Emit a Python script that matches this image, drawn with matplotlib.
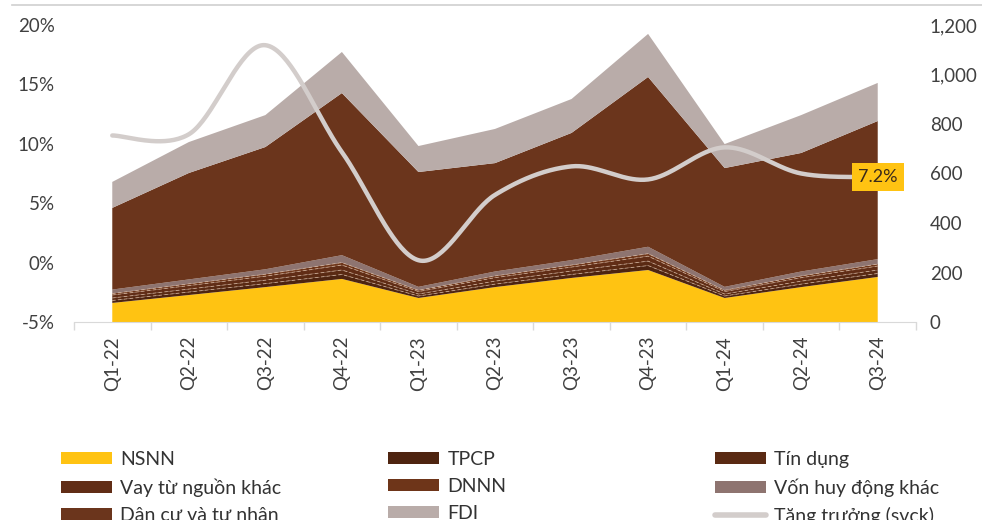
import numpy as np
import matplotlib
matplotlib.use("Agg")
import matplotlib.pyplot as plt
from matplotlib.patches import Patch
from matplotlib.lines import Line2D

plt.rcParams['font.family'] = ['Lato', 'DejaVu Sans']

quarters = ["Q1-22", "Q2-22", "Q3-22", "Q4-22", "Q1-23", "Q2-23",
            "Q3-23", "Q4-23", "Q1-24", "Q2-24", "Q3-24"]

# capital sources (right axis), bottom to top
nsnn = [77, 109, 141, 174, 97, 141, 178, 210, 97, 141, 182]
tpcp = [10, 12, 14, 18, 8, 12, 14, 18, 8, 12, 14]
tin_dung = [10, 12, 14, 18, 8, 12, 14, 18, 8, 12, 14]
vay_khac = [12, 14, 16, 20, 10, 14, 16, 20, 10, 14, 16]
dnnn = [6, 7, 8, 10, 5, 7, 8, 10, 5, 7, 8]
von_khac = [16, 18, 20, 30, 14, 18, 20, 28, 14, 18, 20]
dan_cu = [330, 430, 494, 655, 464, 438, 514, 686, 480, 479, 558]
fdi = [105, 125, 129, 166, 105, 138, 137, 174, 97, 153, 154]

# year-on-year growth (left axis, %)
tang_truong = [10.7, 10.8, 18.3, 9.3, 0.2, 5.7, 8.1, 7.0, 9.7, 7.5, 7.2]

layers = [nsnn, tpcp, tin_dung, vay_khac, dnnn, von_khac, dan_cu, fdi]
names = ["NSNN", "TPCP", "Tín dụng", "Vay từ nguồn khác", "DNNN",
         "Vốn huy động khác", "Dân cư và tư nhân", "FDI"]
colors = ["#FFC312", "#4E2410", "#5A2A13", "#612D16", "#6E3519",
          "#8E7470", "#6B351C", "#B9ACA9"]
line_color = "#D3CDCB"
text_color = "#404040"


def smooth(xs, ys, n=40):
    # Catmull-Rom style Bezier through every point
    pts = np.column_stack([xs, ys]).astype(float)
    p = np.vstack([pts[0], pts, pts[-1]])
    out = []
    t = np.linspace(0, 1, n)[:, None]
    for i in range(len(pts) - 1):
        p0, p1, p2, p3 = p[i], p[i + 1], p[i + 2], p[i + 3]
        c1 = p1 + (p2 - p0) / 6
        c2 = p2 - (p3 - p1) / 6
        seg = ((1 - t) ** 3 * p1 + 3 * (1 - t) ** 2 * t * c1
               + 3 * (1 - t) * t ** 2 * c2 + t ** 3 * p2)
        out.append(seg if i == 0 else seg[1:])
    return np.vstack(out)


x = np.arange(len(quarters))

fig = plt.figure(figsize=(9.82, 5.20), dpi=100)
ax = fig.add_axes([74 / 982, 1 - 322 / 520, (916 - 74) / 982, (322 - 25) / 520])

# stacked areas on the right-hand scale
ax.stackplot(x, *layers, colors=colors, linewidth=0)
cum = np.cumsum(np.array(layers), axis=0)
for k in (1, 2, 3, 4):
    ax.plot(x, cum[k], color="#D9B8A0", lw=0.6, ls=(0, (4, 3)), alpha=0.8)

ax.set_xlim(-0.5, len(quarters) - 0.5)
ax.set_ylim(0, 1200)

ax.set_xticks(x)
ax.set_xticklabels(quarters, rotation=90)
ax.set_xticks(np.arange(-0.5, len(quarters)), minor=True)
ax.tick_params(axis="x", which="major", length=0, pad=10, labelsize=13.5,
               labelcolor=text_color)
ax.tick_params(axis="x", which="minor", length=6, color="#D9D9D9", width=1)

for s in ("top", "left", "right"):
    ax.spines[s].set_visible(False)
ax.spines["bottom"].set_color("#D9D9D9")

# growth line on the left-hand scale, drawn above the areas
ax2 = ax.twinx()
ax2.yaxis.tick_left()
ax2.yaxis.set_label_position("left")
ax.yaxis.tick_right()
ax.yaxis.set_label_position("right")

ax.set_yticks(range(0, 1201, 200))
ax.set_yticklabels([f"{v:,}" for v in range(0, 1201, 200)])
ax.tick_params(axis="y", length=0, pad=10, labelsize=13.5, labelcolor=text_color)

curve = smooth(x, tang_truong)
ax2.plot(curve[:, 0], curve[:, 1], color=line_color, lw=3.2,
         solid_capstyle="round")
ax2.set_ylim(-5, 20)
ax2.set_yticks(range(-5, 21, 5))
ax2.set_yticklabels([f"{v}%" for v in range(-5, 21, 5)])
ax2.tick_params(axis="y", length=0, pad=14, labelsize=13.5, labelcolor=text_color)
for s in ax2.spines.values():
    s.set_visible(False)

ax2.annotate(f"{tang_truong[-1]:.1f}%", (x[-1], tang_truong[-1]),
             ha="center", va="center", fontsize=13, color="#3A2A1A",
             bbox=dict(boxstyle="square,pad=0.35", fc="#FFC312", ec="none"))

# thin rule across the top of the figure
fig.add_artist(Line2D([12 / 982, 1], [1 - 5 / 520, 1 - 5 / 520],
                      color="#CFCFCF", lw=1.2))

# legend in three columns, filled row by row
handles = [Patch(fc=c, ec="none") for c in colors]
handles.append(Line2D([], [], color=line_color, lw=4, solid_capstyle="round"))
labels = names + ["Tăng trưởng (svck)"]
order = [[0, 3, 6], [1, 4, 7], [2, 5, 8]]
for col, xpos in zip(order, (61, 388, 715)):
    fig.legend([handles[i] for i in col], [labels[i] for i in col],
               loc="upper left", bbox_to_anchor=(xpos / 982, 1 - 451 / 520),
               frameon=False, fontsize=14, labelcolor="#333333",
               handlelength=2.6, handleheight=0.55, handletextpad=0.45,
               labelspacing=0.52, borderaxespad=0, borderpad=0)

fig.savefig("out.png", dpi=100)
